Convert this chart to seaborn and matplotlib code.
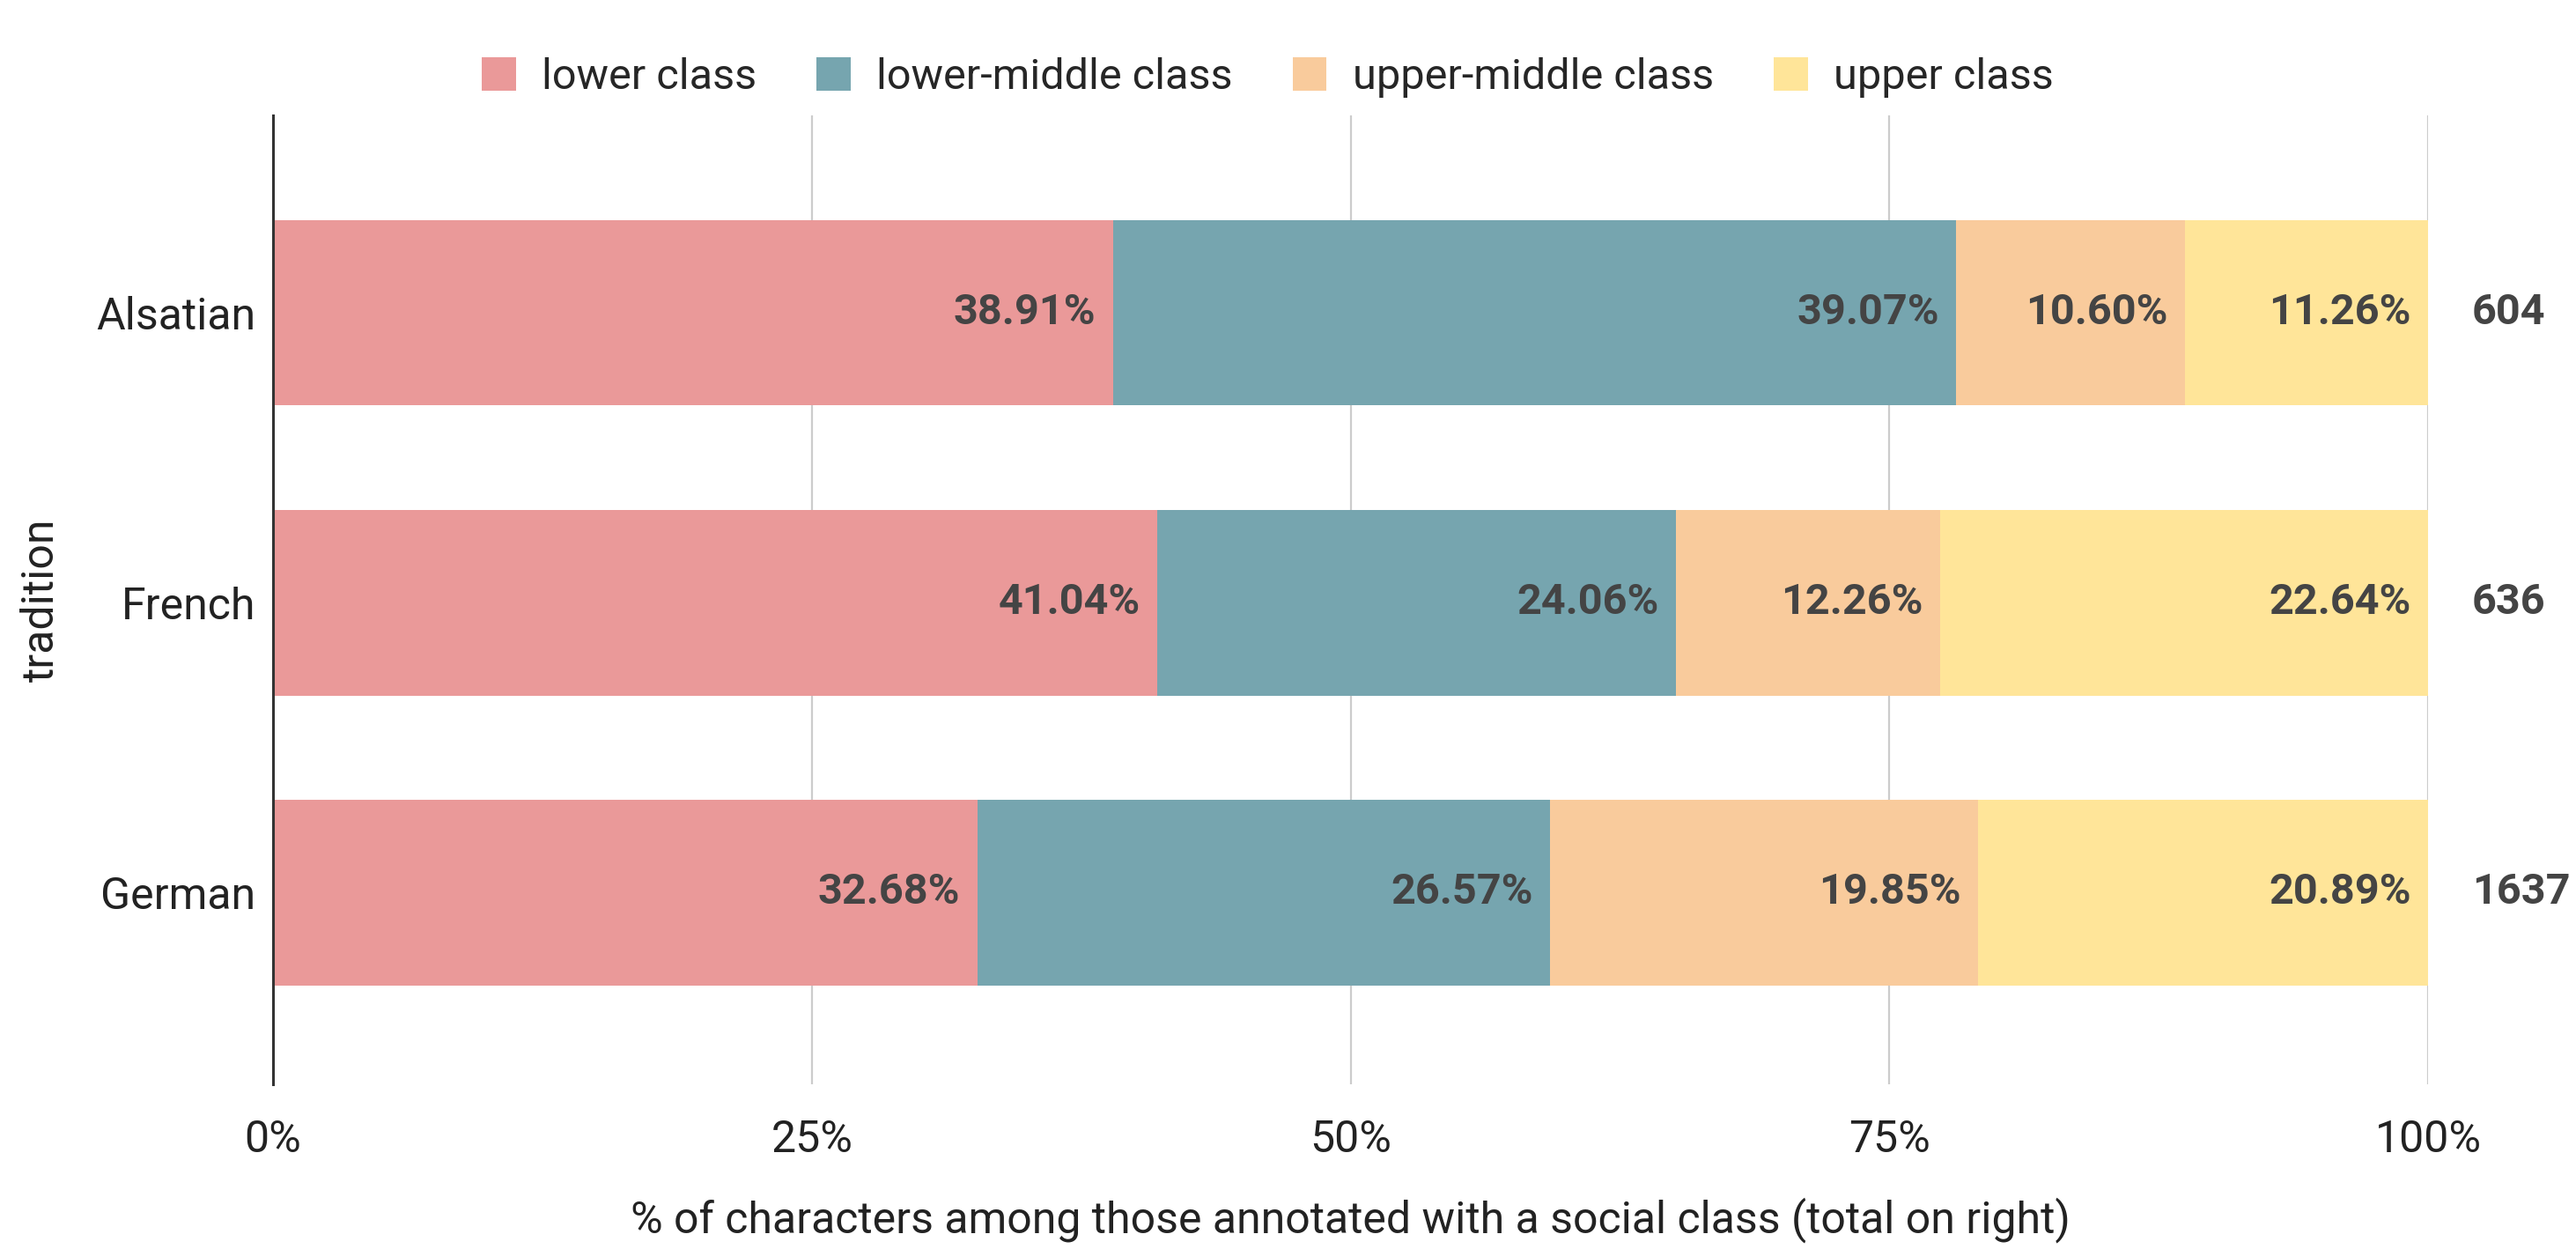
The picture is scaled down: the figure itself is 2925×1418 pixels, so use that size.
import numpy as np
import pandas as pd
import matplotlib.pyplot as plt
import seaborn as sns
from matplotlib.patches import Patch

traditions = ['Alsatian', 'French', 'German']
classes = ['lower class', 'lower-middle class', 'upper-middle class', 'upper class']
lower = [38.91, 41.04, 32.68]
lower_middle = [39.07, 24.06, 26.57]
upper_middle = [10.60, 12.26, 19.85]
upper = [11.26, 22.64, 20.89]
totals = [604, 636, 1637]

colors = ['#EA9999', '#76A5AF', '#F9CB9C', '#FFE599']

sns.set_style('white')
plt.rcParams['font.family'] = ['Roboto', 'DejaVu Sans']

df = pd.DataFrame({'tradition': traditions, 'lower class': lower,
                   'lower-middle class': lower_middle,
                   'upper-middle class': upper_middle, 'upper class': upper})
# 100% stacked: normalise each row so the bars fill the axis
shares = df[classes].div(df[classes].sum(axis=1), axis=0) * 100
cum = shares.cumsum(axis=1)

fig, ax = plt.subplots(figsize=(14.625, 7.09), dpi=200)
fig.subplots_adjust(left=0.106, right=0.9426, bottom=0.132, top=0.9076)

# stacked bars: draw cumulative totals from widest to narrowest
for cls, col in zip(classes[::-1], colors[::-1]):
    sns.barplot(x=cum[cls], y=df['tradition'], color=col, width=0.64,
                orient='h', ax=ax, saturation=1, linewidth=0, zorder=2)

# segment labels at inner end of each segment
for i, t in enumerate(traditions):
    for cls in classes:
        ax.annotate(f'{df.loc[i, cls]:.2f}%', xy=(cum.loc[i, cls], i),
                    xytext=(-7, 0), textcoords='offset points',
                    ha='right', va='center', fontsize=17.5,
                    fontweight='bold', color='#444444', zorder=3)
    ax.annotate(str(totals[i]), xy=(100, i), xytext=(18, 0),
                textcoords='offset points', ha='left', va='center',
                fontsize=17.5, fontweight='bold', color='#444444',
                annotation_clip=False)

ax.set_xlim(0, 100)
ax.set_ylim(2.66, -0.68)
ax.set_xticks([0, 25, 50, 75, 100])
ax.set_xticklabels(['0%', '25%', '50%', '75%', '100%'])
ax.xaxis.grid(True, color='#cccccc', linewidth=0.8, zorder=0)
ax.set_axisbelow(True)
ax.tick_params(axis='x', length=0, pad=14, labelsize=18, colors='#222222')
ax.tick_params(axis='y', length=0, pad=7, labelsize=18, colors='#222222')
for s in ['top', 'right', 'bottom']:
    ax.spines[s].set_visible(False)
ax.spines['left'].set_color('#333333')
ax.spines['left'].set_linewidth(1.1)
ax.spines['left'].set_zorder(4)

ax.set_xlabel('% of characters among those annotated with a social class (total on right)',
              fontsize=18, color='#222222', labelpad=15)
ax.set_ylabel('tradition', fontsize=18, color='#222222', labelpad=14)

handles = [Patch(facecolor=c, edgecolor='none') for c in colors]
fig.legend(handles, classes, loc='center', bbox_to_anchor=(0.492, 0.938),
           ncol=4, frameon=False, fontsize=17.5, handlelength=0.8,
           handleheight=0.8, handletextpad=0.6, columnspacing=1.4)

plt.savefig('out.png', dpi=200)
